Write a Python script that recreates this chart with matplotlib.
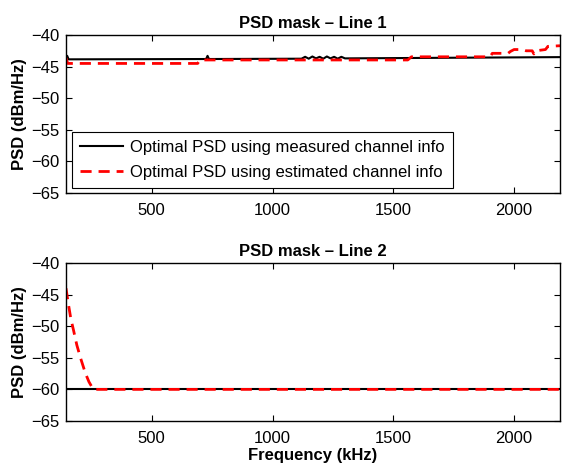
import matplotlib
matplotlib.use('Agg')
import matplotlib.pyplot as plt

plt.rcParams['font.family'] = ['Liberation Sans', 'DejaVu Sans']

# Line 1 - measured channel info
meas1_f = [145, 150, 156, 725, 731, 737, 1120, 1135, 1150, 1165, 1180, 1195, 1210, 1225,
           1240, 1255, 1270, 1285, 1300, 2190]
meas1_v = [-43.5, -43.3, -43.85, -43.8, -43.3, -43.8, -43.75, -43.45, -43.75, -43.4, -43.7,
           -43.45, -43.75, -43.4, -43.7, -43.45, -43.75, -43.45, -43.7, -43.5]
# Line 1 - estimated channel info
est1_f = [145, 152, 160, 690, 700, 1560, 1575, 1900, 1910, 1975, 1985, 2000, 2035, 2050,
          2075, 2082, 2090, 2130, 2140, 2190]
est1_v = [-43.6, -44.5, -44.5, -44.5, -43.95, -43.95, -43.45, -43.45, -42.9, -42.9, -42.6,
          -42.3, -42.3, -42.5, -42.5, -43.0, -42.5, -42.3, -41.8, -41.7]

# Line 2
meas2_f = [145, 2190]
meas2_v = [-60, -60]
est2_f = [145, 155, 165, 176, 190, 205, 225, 240, 258, 2190]
est2_v = [-44, -46.5, -48.8, -50.6, -53, -55, -57.4, -58.8, -60, -60]

xticks = [500, 1000, 1500, 2000]
yticks = [-40, -45, -50, -55, -60, -65]

fig = plt.figure(figsize=(5.62, 4.66), dpi=100)
ax1 = fig.add_axes([0.1174, 0.5858, 0.879, 0.3391])
ax2 = fig.add_axes([0.1174, 0.0966, 0.879, 0.3391])

dash = (0, (4, 2.5))
for ax, mf, mv, ef, ev, title in [(ax1, meas1_f, meas1_v, est1_f, est1_v, 'PSD mask \u2013 Line 1'),
                                   (ax2, meas2_f, meas2_v, est2_f, est2_v, 'PSD mask \u2013 Line 2')]:
    ax.plot(mf, mv, color='black', linewidth=1.5, label='Optimal PSD using measured channel info')
    ax.plot(ef, ev, color='red', linewidth=2.0, linestyle=dash,
            label='Optimal PSD using estimated channel info')
    ax.set_xlim(145, 2190)
    ax.set_ylim(-65, -40)
    ax.set_xticks(xticks)
    ax.set_yticks(yticks)
    ax.tick_params(direction='in', top=True, right=True, length=4, width=0.8, labelsize=12)
    ax.tick_params(axis='y', pad=4.5)
    ax.tick_params(axis='x', pad=7)
    for s in ax.spines.values():
        s.set_linewidth(1.0)
    ax.set_title(title, fontsize=12, fontweight='bold', pad=5)
    ax.set_ylabel('PSD (dBm/Hz)', fontsize=12, fontweight='bold', labelpad=3)

ax2.set_xlabel('Frequency (kHz)', fontsize=12, fontweight='bold', labelpad=2)

leg = ax1.legend(loc='lower left', bbox_to_anchor=(0.0115, 0.03), borderaxespad=0,
                 fontsize=12, fancybox=False, framealpha=1, edgecolor='black',
                 handlelength=2.6, handletextpad=0.4, borderpad=0.5, labelspacing=0.6)
leg.get_frame().set_linewidth(0.8)

fig.savefig('out.png', dpi=100)
